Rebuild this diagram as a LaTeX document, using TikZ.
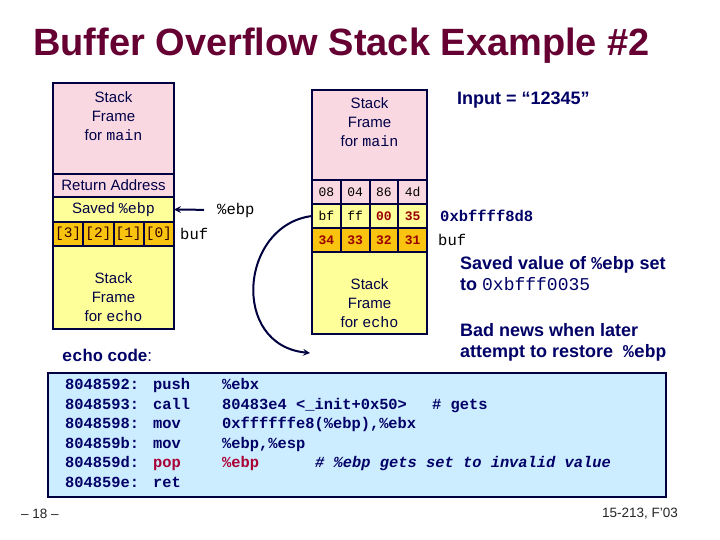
\documentclass[tikz,border=0pt]{standalone}
\usepackage{fontspec}
\setmainfont{Liberation Sans}
\setmonofont{Liberation Mono}
\usepackage{tikz}
\usetikzlibrary{positioning,arrows}
\definecolor{framepink}{RGB}{250,216,226}
\definecolor{frameyellow}{RGB}{255,255,153}
\definecolor{bufOrange}{RGB}{248,196,16}
\definecolor{navyline}{RGB}{0,0,64}
\definecolor{navytext}{RGB}{0,0,102}
\definecolor{codeblue}{RGB}{204,236,255}
\definecolor{titlered}{RGB}{102,0,51}
\definecolor{hexred}{RGB}{153,0,0}
\definecolor{popred}{RGB}{170,0,51}
\newcommand{\asmline}[3]{\makebox[88pt][l]{#1}\makebox[69pt][l]{#2}#3}
\tikzstyle{frame} = [rectangle, draw=navyline, line width=2pt,
    inner sep=0pt, outer sep=0pt]
\tikzstyle{frameL} = [frame, minimum width=121pt]
\tikzstyle{frameR} = [frame, minimum width=115pt]
\tikzstyle{cellL} = [frame, minimum width=30.25pt, minimum height=24pt,
    fill=bufOrange, font=\fontsize{14.5}{17}\selectfont\ttfamily, text=black!80!red]
\tikzstyle{cellR} = [frame, minimum width=28.75pt, minimum height=24pt,
    font=\fontsize{13}{15}\selectfont\ttfamily]
\tikzstyle{stacktext} = [inner sep=0pt, align=center, text=navytext!70!black,
    font=\fontsize{15}{19}\selectfont]
\tikzstyle{monolabel} = [inner sep=0pt, font=\fontsize{15.5}{18}\selectfont\ttfamily]
\tikzstyle{note} = [inner sep=0pt, align=left, text=navytext,
    font=\fontsize{18}{21}\selectfont\bfseries]
\tikzstyle{codebox} = [rectangle, draw=navyline, line width=2.6pt, fill=codeblue,
    minimum width=618pt, minimum height=124pt, inner sep=0pt]
\tikzstyle{codeline} = [anchor=base west, inner sep=0pt, text=navytext,
    font=\fontsize{15.4}{19.4}\selectfont\ttfamily\bfseries]
\tikzstyle{footer} = [inner sep=0pt, text=black!85, font=\fontsize{13.5}{16}\selectfont]
\tikzstyle{arrow} = [line width=2pt, draw=navyline, ->, >=stealth]

\begin{document}
\begin{tikzpicture}[x=1pt, y=-1pt, node distance=0pt]
    \fill[white] (0,0) rectangle (720,540);
    \useasboundingbox (0,0) rectangle (720,540);

    % title
    \node (title) [anchor=base west, inner sep=0pt, text=titlered,
        font=\fontsize{38}{44}\selectfont\bfseries] at (33,56)
        {Buffer Overflow Stack Example \#2};

    % stack before the call to gets
    \node (mainL) [frameL, minimum height=91pt, fill=framepink, anchor=north] at (113.5,83) {};
    \node (retL) [frameL, minimum height=23pt, fill=framepink, below=of mainL,
        text=navytext!70!black, font=\fontsize{15}{19}\selectfont] {Return Address};
    \node (savedL) [frameL, minimum height=25pt, fill=frameyellow, below=of retL,
        text=navytext!70!black, font=\fontsize{15}{19}\selectfont] {Saved \texttt{\%ebp}};
    \node (bufL) [frameL, minimum height=24pt, fill=bufOrange, below=of savedL] {};
    \node (b3) [cellL, anchor=north west] at (bufL.north west) {[3]};
    \node (b2) [cellL, right=of b3] {[2]};
    \node (b1) [cellL, right=of b2] {[1]};
    \node (b0) [cellL, right=of b1] {[0]};
    \node (echoL) [frameL, minimum height=83pt, fill=frameyellow, below=of bufL] {};
    \node (mainLtext) [stacktext, anchor=north, below=8.6pt of mainL.north]
        {Stack\\Frame\\for \texttt{main}};
    \node (echoLtext) [stacktext, anchor=north, below=26.6pt of echoL.north]
        {Stack\\Frame\\for \texttt{echo}};
    \node (ebpL) [monolabel, anchor=west] at (217,210) {\%ebp};
    \node (bufLtag) [monolabel, right=6pt of bufL] {buf};
    \draw [arrow, shorten <=13pt] (ebpL.west) -- (savedL.east);

    % stack after gets with input 12345
    \node (mainR) [frameR, minimum height=90pt, fill=framepink, anchor=north] at (369.5,90) {};
    \node (rowA) [frameR, minimum height=24pt, below=of mainR] {};
    \node (rowB) [frameR, minimum height=24pt, below=of rowA] {};
    \node (rowC) [frameR, minimum height=24pt, below=of rowB] {};
    \node (echoR) [frameR, minimum height=82pt, fill=frameyellow, below=of rowC] {};
    \node (cA1) [cellR, fill=framepink, anchor=north west] at (rowA.north west) {08};
    \node (cA2) [cellR, fill=framepink, right=of cA1] {04};
    \node (cA3) [cellR, fill=framepink, right=of cA2] {86};
    \node (cA4) [cellR, fill=framepink, right=of cA3] {4d};
    \node (cB1) [cellR, fill=frameyellow, anchor=north west] at (rowB.north west) {bf};
    \node (cB2) [cellR, fill=frameyellow, right=of cB1] {ff};
    \node (cB3) [cellR, fill=frameyellow, right=of cB2, text=hexred] {\bfseries 00};
    \node (cB4) [cellR, fill=frameyellow, right=of cB3, text=hexred] {\bfseries 35};
    \node (cC1) [cellR, fill=bufOrange, anchor=north west, text=hexred] at (rowC.north west) {\bfseries 34};
    \node (cC2) [cellR, fill=bufOrange, right=of cC1, text=hexred] {\bfseries 33};
    \node (cC3) [cellR, fill=bufOrange, right=of cC2, text=hexred] {\bfseries 32};
    \node (cC4) [cellR, fill=bufOrange, right=of cC3, text=hexred] {\bfseries 31};
    \node (mainRtext) [stacktext, anchor=north, below=7.6pt of mainR.north]
        {Stack\\Frame\\for \texttt{main}};
    \node (echoRtext) [stacktext, anchor=north, below=26.6pt of echoR.north]
        {Stack\\Frame\\for \texttt{echo}};
    \node (addrR) [monolabel, right=13pt of rowB, text=navytext] {\bfseries 0xbffff8d8};
    \node (bufRtag) [monolabel, right=11pt of rowC] {buf};

    % notes
    \node (input) [note, anchor=west] at (457,100) {Input = “12345”};
    \node (savedNote) [note, anchor=north west] at (460,256)
        {Saved value of \texttt{\%ebp} set\\to \texttt{\mdseries 0xbfff0035}};
    \node (badNote) [note, anchor=north west] at (460,323)
        {Bad news when later\\attempt to restore \ \texttt{\%ebp}};

    % %ebp gets popped
    \coordinate (popTarget) at (310,353);
    \draw [arrow] (cB1.west) .. controls (240,225) and (230,345) .. (popTarget);

    % disassembly of echo
    \node (codeTitle) [anchor=west, inner sep=0pt, text=navytext,
        font=\fontsize{17}{20}\selectfont] at (62,355)
        {\texttt{\bfseries echo} \textbf{code}:};
    \node (codeBox) [codebox] at (357,435) {};
    \node (l1) [codeline] at (65,389.5) {\asmline{8048592:}{push}{\%ebx}};
    \node (l2) [codeline] at (65,409) {\asmline{8048593:}{call}{\makebox[210pt][l]{80483e4 <\_init+0x50>}\# gets}};
    \node (l3) [codeline] at (65,428.5) {\asmline{8048598:}{mov}{0xffffffe8(\%ebp),\%ebx}};
    \node (l4) [codeline] at (65,448) {\asmline{804859b:}{mov}{\%ebp,\%esp}};
    \node (l5) [codeline] at (65,467.5) {\asmline{804859d:}{\textcolor{popred}{pop}}{\makebox[93pt][l]{\textcolor{popred}{\%ebp}}\textit{\# \%ebp gets set to invalid value}}};
    \node (l6) [codeline] at (65,487) {\asmline{804859e:}{ret}{}};

    % footer
    \node (pageNo) [footer, anchor=west] at (21,514) {– 18 –};
    \node (course) [footer, anchor=east] at (678,514) {15-213, F'03};
\end{tikzpicture}
\end{document}
